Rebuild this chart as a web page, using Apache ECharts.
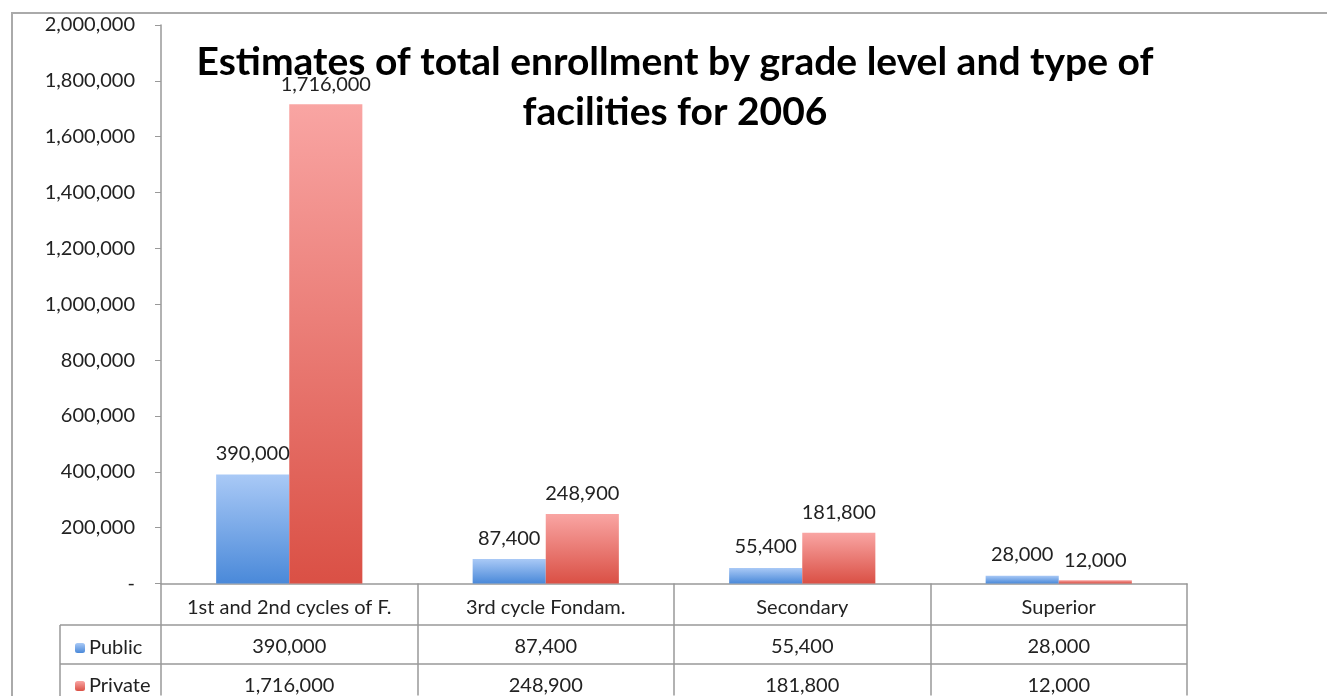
<!DOCTYPE html>
<html>
<head>
<meta charset="utf-8">
<script src="https://cdn.jsdelivr.net/npm/echarts@6/dist/echarts.min.js"></script>
<style>
  html, body { margin: 0; padding: 0; background: #fff; }
  #chart { width: 1327px; height: 696px; }
</style>
</head>
<body>
<div id="chart"></div>
<script>
const categories = ['1st and 2nd cycles of F.', '3rd cycle Fondam.', 'Secondary', 'Superior'];
const publicData = [390000, 87400, 55400, 28000];
const privateData = [1716000, 248900, 181800, 12000];
const yTicks = [0, 200000, 400000, 600000, 800000, 1000000, 1200000, 1400000, 1600000, 1800000, 2000000];

const font = 'Lato, "Open Sans", sans-serif';
const fmt = v => v === 0 ? '-' : v.toLocaleString('en-US');

const chart = echarts.init(document.getElementById('chart'));

// one legend per table row, so each sits in its own cell
const legendRow = (name, top) => ({
  left: 70,
  top: top,
  itemWidth: 10,
  itemHeight: 10,
  itemGap: 4,
  textStyle: { fontSize: 20, color: '#222', fontFamily: font, padding: [0, 0, 0, -1] },
  data: [name]
});

chart.setOption({
  animation: false,
  textStyle: { fontFamily: font, color: '#222' },
  title: {
    text: 'Estimates of total enrollment by grade level and type of\nfacilities for 2006',
    left: 670,
    textAlign: 'center',
    top: 32,
    textStyle: { fontSize: 39, fontWeight: 'bold', color: '#000', lineHeight: 50, fontFamily: font }
  },
  legend: [legendRow('Public', 633), legendRow('Private', 671)],
  grid: { left: 161, right: 140, top: 25, bottom: 112 },
  xAxis: {
    type: 'category',
    data: categories,
    axisLine: { lineStyle: { color: '#999', width: 1.5 } },
    axisTick: { show: true, length: 112, lineStyle: { color: '#999', width: 1.5 } },
    axisLabel: {
      margin: 5,
      interval: 0,
      formatter: (v, i) => `{c|${v}}\n{v|${fmt(publicData[i])}}\n{v|${fmt(privateData[i])}}`,
      rich: {
        c: { fontSize: 20, lineHeight: 39, color: '#222', fontFamily: font },
        v: { fontSize: 20, lineHeight: 39, color: '#222', fontFamily: font }
      }
    }
  },
  yAxis: {
    type: 'value',
    min: yTicks[0],
    max: yTicks[yTicks.length - 1],
    interval: 200000,
    axisLine: { show: true, lineStyle: { color: '#999', width: 1.5 } },
    axisTick: { show: true, length: 6, lineStyle: { color: '#999' } },
    splitLine: { show: false },
    axisLabel: { fontSize: 20, color: '#222', margin: 26, formatter: fmt }
  },
  series: [
    {
      name: 'Public',
      type: 'bar',
      data: publicData,
      barGap: 0,
      barCategoryGap: '43%',
      itemStyle: {
        color: new echarts.graphic.LinearGradient(0, 0, 0, 1, [
          { offset: 0, color: '#a9c9f6' },
          { offset: 1, color: '#4a89d9' }
        ])
      },
      label: { show: true, position: 'top', distance: 11, fontSize: 20, color: '#222', formatter: p => fmt(p.value) }
    },
    {
      name: 'Private',
      type: 'bar',
      data: privateData,
      itemStyle: {
        color: new echarts.graphic.LinearGradient(0, 0, 0, 1, [
          { offset: 0, color: '#f9a5a3' },
          { offset: 1, color: '#da5045' }
        ])
      },
      label: { show: true, position: 'top', distance: 10, fontSize: 20, color: '#222', formatter: p => fmt(p.value) }
    }
  ],
  graphic: [
    // outer frame
    { type: 'rect', shape: { x: 12, y: 13, width: 1340, height: 700 }, style: { fill: null, stroke: '#aaa', lineWidth: 2 }, silent: true },
    // data table rows
    { type: 'line', shape: { x1: 60, y1: 625, x2: 1187, y2: 625 }, style: { stroke: '#999', lineWidth: 1.5 } },
    { type: 'line', shape: { x1: 60, y1: 664, x2: 1187, y2: 664 }, style: { stroke: '#999', lineWidth: 1.5 } },
    { type: 'line', shape: { x1: 60, y1: 625, x2: 60, y2: 700 }, style: { stroke: '#999', lineWidth: 1.5 } }
  ]
});
</script>
</body>
</html>
